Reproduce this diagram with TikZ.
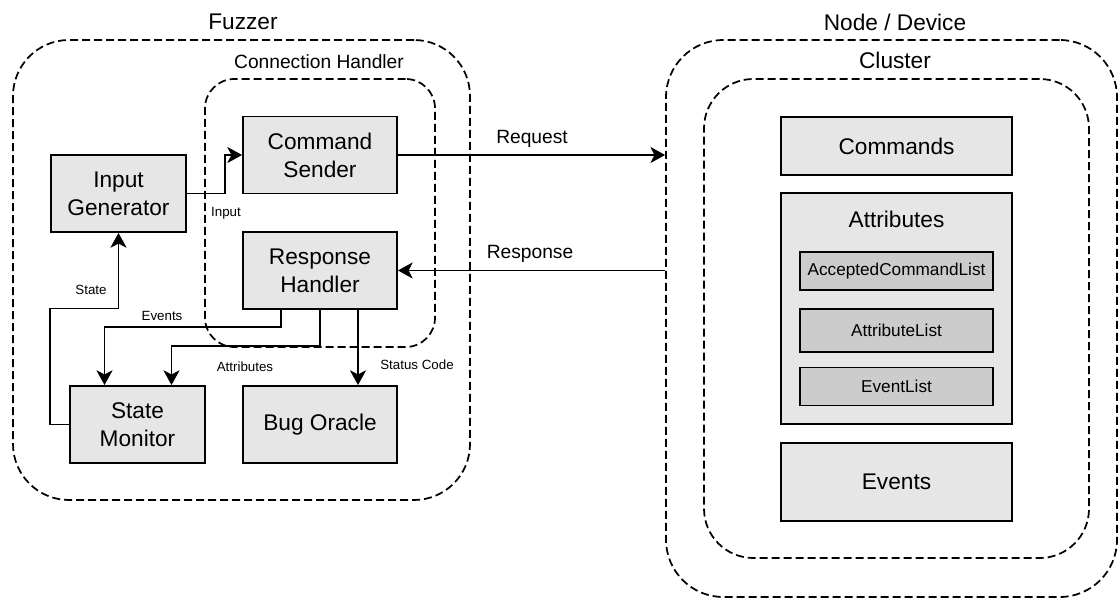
\documentclass[tikz,border=0pt]{standalone}
\usepackage{fontspec}
\setmainfont{Liberation Sans}
\usetikzlibrary{arrows.meta,calc}

\definecolor{boxgray}{HTML}{E6E6E6}
\definecolor{listgray}{HTML}{CCCCCC}

\tikzset{
  block/.style={draw,line width=1.4pt,fill=boxgray,minimum width=115.5pt,minimum height=57.75pt,align=center,font=\fontsize{17}{21}\selectfont},
  listbox/.style={draw,line width=1.4pt,fill=listgray,minimum width=144.75pt,minimum height=28.5pt,font=\fontsize{12.9}{15}\selectfont},
  group/.style={draw,line width=1.3pt,dash pattern=on 6pt off 3pt},
  link/.style={line width=1.4pt,-{Stealth[length=11pt,width=12pt,inset=3pt]}},
  biglbl/.style={font=\fontsize{17}{21}\selectfont},
  midlbl/.style={font=\fontsize{14.4}{17}\selectfont},
  smalllbl/.style={font=\fontsize{10}{12}\selectfont}
}

\begin{document}
\begin{tikzpicture}[x=0.75pt,y=-0.75pt]
\useasboundingbox (0,0) rectangle (1120,599);

% fuzzer side
\node[group,rounded corners=42pt,minimum width=342.75pt,minimum height=345pt] (fz) at (241.5,270) {};
\node[group,rounded corners=22pt,minimum width=172.5pt,minimum height=201pt] (ch) at (320,213) {};
\node[biglbl] (fzlbl) at (243,22) {Fuzzer};
\node[midlbl] (chlbl) at (319,62) {Connection Handler};

\node[block] (cmd) at (320,155) {Command\\Sender};
\node[block,minimum width=101.25pt] (gen) at (118.5,193.5) {Input\\Generator};
\node[block] (rh) at (320,270.5) {Response\\Handler};
\node[block,minimum width=101.25pt] (mon) at (137.5,424.5) {State\\Monitor};
\node[block] (bug) at (320,424.5) {Bug Oracle};

% device side
\node[group,rounded corners=43pt,minimum width=338.25pt,minimum height=417.75pt] (dev) at (891.5,318.5) {};
\node[group,rounded corners=37pt,minimum width=288.75pt,minimum height=359.25pt] (cl) at (896.5,318.5) {};
\node[biglbl] (devlbl) at (895,22) {Node / Device};
\node[biglbl] (cllbl) at (895,60) {Cluster};

\node[block,minimum width=173.25pt,minimum height=43.5pt] (cmds) at (896.5,146) {Commands};
\node[block,minimum width=173.25pt,minimum height=173.25pt] (attr) at (896.5,308.5) {};
\node[biglbl] (attrlbl) at ($(attr.north)+(0,27)$) {Attributes};
\node[listbox] (acl) at (896.5,271) {AcceptedCommandList};
\node[listbox,minimum height=32.25pt] (al) at (896.5,330.5) {AttributeList};
\node[listbox] (el) at (896.5,386.5) {EventList};
\node[block,minimum width=173.25pt,minimum height=58.5pt] (evts) at (896.5,482) {Events};

% connectors
\draw[link] (gen.east) -- ++(38,0) |- (cmd.west);
\draw[link] (cmd.east) -- (cmd.east -| dev.west);
\draw[link] (rh.east -| dev.west) -- (rh.east);
\draw[link] (mon.west) -| ++(-19,-116) -| (gen.south);
\draw[link] ($(rh.south)+(-39,0)$) |- ($(mon.north)+(-33,-58)$) -- ($(mon.north)+(-33,0)$);
\draw[link] (rh.south) |- ($(mon.north)+(34,-39)$) -- ($(mon.north)+(34,0)$);
\draw[link] ($(rh.south)+(38,0)$) -- ($(bug.north)+(38,0)$);

\node[smalllbl] (inlbl) at (226,213) {Input};
\node[midlbl] (reqlbl) at (532,139) {Request};
\node[midlbl] (reslbl) at (530,254) {Response};
\node[smalllbl] (stlbl) at (91,290) {State};
\node[smalllbl] (evlbl) at (162,316) {Events};
\node[smalllbl] (atlbl) at (245,367) {Attributes};
\node[smalllbl] (sclbl) at (417,365) {Status Code};
\end{tikzpicture}
\end{document}
